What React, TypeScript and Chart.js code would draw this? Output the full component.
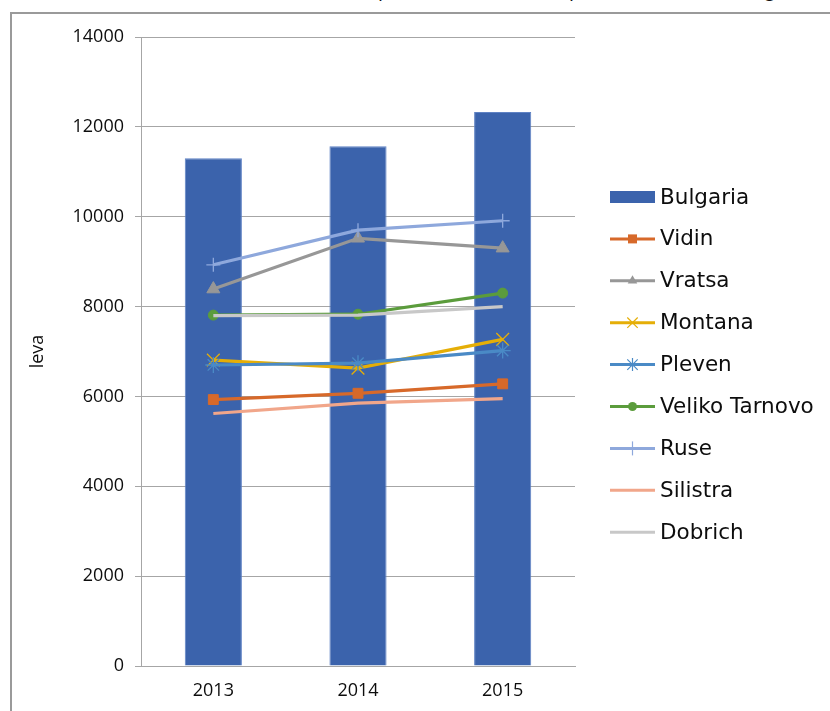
import React, { useEffect, useRef } from "react";
import { Chart, registerables } from "chart.js";

Chart.register(...registerables);

// ---------- data ----------
const years = ["2013", "2014", "2015"];
const bulgaria = [11300, 11570, 12330];
const vidin = [5930, 6070, 6280];
const vratsa = [8390, 9520, 9300];
const montana = [6810, 6630, 7270];
const pleven = [6700, 6740, 7020];
const velikoTarnovo = [7810, 7830, 8300];
const ruse = [8930, 9700, 9910];
const silistra = [5620, 5850, 5950];
const dobrich = [7800, 7810, 8000];
const yMin = 0;
const yMax = 14000;
const yStep = 2000;
const yAxisTitle = "leva";

// cropped caption fragments at the top edge (only descenders visible)
const topFragments = [
  { t: "p", x: 380 },
  { t: ",", x: 495 },
  { t: "p", x: 571 },
  { t: ",", x: 614 },
  { t: "g", x: 766 },
];

const TICK_FONT = { family: "'Open Sans', sans-serif", size: 18 };
const LEGEND_FONT = "21.5px 'DejaVu Sans', sans-serif";

function drawMarker(
  ctx: CanvasRenderingContext2D,
  style: string,
  x: number,
  y: number,
  r: number,
  color: string,
  lw: number
) {
  ctx.save();
  ctx.fillStyle = color;
  ctx.strokeStyle = color;
  ctx.lineWidth = lw;
  ctx.beginPath();
  if (style === "rect") {
    ctx.fillRect(x - r, y - r, 2 * r, 2 * r);
  } else if (style === "triangle") {
    ctx.moveTo(x, y - r);
    ctx.lineTo(x + r * 0.87, y + r * 0.5);
    ctx.lineTo(x - r * 0.87, y + r * 0.5);
    ctx.closePath();
    ctx.fill();
  } else if (style === "circle") {
    ctx.arc(x, y, r, 0, Math.PI * 2);
    ctx.fill();
  } else if (style === "crossRot") {
    const d = r * 0.8;
    ctx.moveTo(x - d, y - d);
    ctx.lineTo(x + d, y + d);
    ctx.moveTo(x + d, y - d);
    ctx.lineTo(x - d, y + d);
    ctx.stroke();
  } else if (style === "star") {
    const d = r * 0.8;
    ctx.moveTo(x - d, y - d);
    ctx.lineTo(x + d, y + d);
    ctx.moveTo(x + d, y - d);
    ctx.lineTo(x - d, y + d);
    ctx.moveTo(x, y - r);
    ctx.lineTo(x, y + r);
    ctx.stroke();
  } else if (style === "cross") {
    ctx.moveTo(x, y - r);
    ctx.lineTo(x, y + r);
    ctx.stroke();
  }
  ctx.restore();
}

const customLegend = {
  id: "customLegend",
  afterDraw(chart: any) {
    const ctx: CanvasRenderingContext2D = chart.ctx;
    const x0 = 610;
    const w = 45;
    const top = 197;
    const step = 41.9;
    ctx.save();
    ctx.font = LEGEND_FONT;
    ctx.textBaseline = "middle";
    ctx.textAlign = "left";
    chart.data.datasets.forEach((ds: any, i: number) => {
      const y = top + i * step;
      if (ds.type === "bar") {
        ctx.fillStyle = ds.backgroundColor;
        ctx.fillRect(x0, y - 6, w, 12);
      } else {
        ctx.strokeStyle = ds.borderColor;
        ctx.lineWidth = 3;
        ctx.beginPath();
        ctx.moveTo(x0, y);
        ctx.lineTo(x0 + w, y);
        ctx.stroke();
        if (ds.legendMarker) {
          drawMarker(ctx, ds.legendMarker, x0 + w / 2, y, ds.legendMarkerSize, ds.borderColor, 1.2);
        }
      }
      ctx.fillStyle = "#0d0d0d";
      ctx.fillText(ds.label, x0 + w + 5, y + 1);
    });
    ctx.restore();
  },
};

function lineDs(
  label: string,
  data: number[],
  color: string,
  pointStyle: string | false,
  pointRadius: number,
  pointBorderWidth: number,
  order: number,
  legendMarker: string | null,
  legendMarkerSize: number
) {
  return {
    type: "line" as const,
    label,
    data,
    borderColor: color,
    backgroundColor: color,
    borderWidth: 3.2,
    pointStyle: pointStyle || "circle",
    pointRadius,
    pointBorderWidth,
    pointBorderColor: color,
    pointBackgroundColor: color,
    tension: 0,
    fill: false,
    order,
    legendMarker,
    legendMarkerSize,
  };
}

export default function App() {
  const canvasRef = useRef<HTMLCanvasElement | null>(null);

  useEffect(() => {
    if (!canvasRef.current) return;
    const chart = new Chart(canvasRef.current, {
      type: "bar",
      data: {
        labels: years,
        datasets: [
          {
            type: "bar",
            label: "Bulgaria",
            data: bulgaria,
            backgroundColor: "#3B63AC",
            borderColor: "#5F82C4",
            borderWidth: 1,
            barPercentage: 0.395,
            categoryPercentage: 1,
            order: 20,
          } as any,
          lineDs("Vidin", vidin, "#D7692A", "rect", 7, 1, 9, "rect", 4.5),
          lineDs("Vratsa", vratsa, "#979797", "triangle", 7.5, 1, 8, "triangle", 5.5),
          lineDs("Montana", montana, "#E5AE07", "crossRot", 9, 1.3, 7, "crossRot", 6.5),
          lineDs("Pleven", pleven, "#4A8AC6", "star", 8, 1.3, 6, "star", 6.5),
          lineDs("Veliko Tarnovo", velikoTarnovo, "#5B9C3C", "circle", 5, 1, 5, "circle", 4.5),
          lineDs("Ruse", ruse, "#8EA8DC", "cross", 7, 1.3, 4, "cross", 7),
          lineDs("Silistra", silistra, "#F1A68A", false, 0, 0, 3, null, 0),
          lineDs("Dobrich", dobrich, "#C8C8C8", false, 0, 0, 2, null, 0),
        ] as any,
      },
      options: {
        animation: false,
        responsive: false,
        devicePixelRatio: 1,
        layout: { padding: { left: 0, top: 37, right: 255, bottom: 0 } },
        plugins: {
          legend: { display: false },
          tooltip: { enabled: false },
        },
        scales: {
          x: {
            offset: true,
            grid: { display: true, drawOnChartArea: false, drawTicks: false },
            border: { display: true, color: "#A6A6A6", width: 1 },
            ticks: { color: "#0d0d0d", font: TICK_FONT, padding: 14, maxRotation: 0 },
            afterFit: (scale: any) => {
              scale.height = 45;
            },
          },
          y: {
            min: yMin,
            max: yMax,
            ticks: {
              stepSize: yStep,
              color: "#0d0d0d",
              font: TICK_FONT,
              padding: 11,
              callback: (v: any) => String(v),
            },
            grid: { color: "#A6A6A6", lineWidth: 1, drawTicks: true, tickLength: 6 },
            border: { display: true, color: "#A6A6A6", width: 1 },
            title: {
              display: true,
              text: yAxisTitle,
              color: "#0d0d0d",
              font: { family: "'Open Sans', sans-serif", size: 18 },
              padding: { top: 27, bottom: 0 },
            },
            afterFit: (scale: any) => {
              scale.width = 141;
            },
          },
        },
      } as any,
      plugins: [customLegend],
    });
    return () => chart.destroy();
  }, []);

  return (
    <div style={{ position: "absolute", left: 0, top: 0, width: 830, height: 711, overflow: "hidden", background: "#ffffff" }}>
      {topFragments.map((f, i) => (
        <span
          key={i}
          style={{
            position: "absolute",
            left: f.x,
            top: -21,
            fontFamily: "'Open Sans', sans-serif",
            fontStyle: "italic",
            fontSize: 20,
            lineHeight: "20px",
            color: "#111",
          }}
        >
          {f.t}
        </span>
      ))}
      <div
        style={{
          position: "absolute",
          left: 10,
          top: 12,
          width: 820,
          height: 699,
          borderTop: "2px solid #9a9a9a",
          borderLeft: "2px solid #9a9a9a",
          boxSizing: "border-box",
        }}
      />
      <canvas ref={canvasRef} width={830} height={711} style={{ position: "absolute", left: 0, top: 0 }} />
    </div>
  );
}
